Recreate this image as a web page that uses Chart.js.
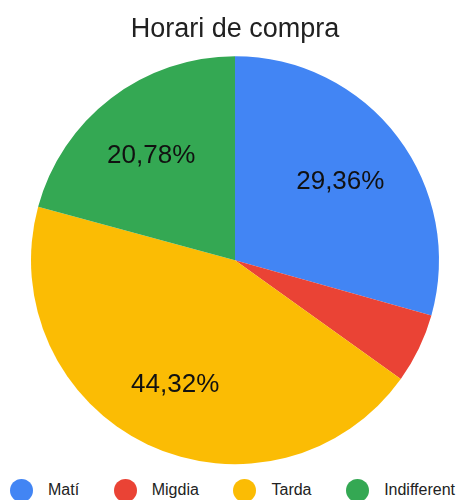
<!doctype html>
<html lang="ca">
  <head>
    <meta charset="utf-8">
    <title>Horari de compra</title>
    <style>
      * {
        margin: 0;
        padding: 0;
        font-family: "Liberation Sans", Arial, sans-serif;
      }
      body {
        width: 461px;
        height: 500px;
        background: #fff;
        overflow: hidden;
      }
      .chartBox {
        position: relative;
        width: 461px;
        height: 470px;
      }
      #legend {
        display: flex;
        justify-content: space-between;
        align-items: center;
        height: 40px;
        padding: 0 6px 0 10px;
      }
      #legend .item {
        display: flex;
        align-items: center;
        font-size: 16px;
        color: #222;
      }
      #legend .dot {
        width: 23px;
        height: 23px;
        border-radius: 50%;
        margin-right: 15px;
      }
    </style>
  </head>
  <body>
    <div class="chartBox">
      <canvas id="myChart"></canvas>
    </div>
    <div id="legend"></div>
    <script src="https://cdn.jsdelivr.net/npm/chart.js"></script>
    <script>
      // data (percent of answers)
      const labels = ['Matí', 'Migdia', 'Tarda', 'Indifferent'];
      const values = [29.36, 5.54, 44.32, 20.78];
      const colors = ['#4285F4', '#EA4335', '#FBBC04', '#34A853'];

      // percentage text inside the bigger slices
      const sliceLabels = {
        id: 'sliceLabels',
        afterDatasetsDraw(chart) {
          const ctx = chart.ctx;
          const meta = chart.getDatasetMeta(0);
          ctx.save();
          ctx.font = '26px "Liberation Sans", Arial, sans-serif';
          ctx.fillStyle = '#111';
          ctx.textAlign = 'center';
          ctx.textBaseline = 'middle';
          meta.data.forEach((arc, i) => {
            const v = chart.data.datasets[0].data[i];
            if (v < 10) return;
            const mid = (arc.startAngle + arc.endAngle) / 2;
            const r = arc.outerRadius * 0.66;
            ctx.fillText(v.toFixed(2).replace('.', ',') + '%',
              arc.x + Math.cos(mid) * r - 2, arc.y + Math.sin(mid) * r + 3);
          });
          ctx.restore();
        }
      };

      const data = {
        labels: labels,
        datasets: [{
          data: values,
          backgroundColor: colors,
          borderWidth: 0,
          radius: 204
        }]
      };

      const config = {
        type: 'pie',
        data,
        options: {
          responsive: true,
          maintainAspectRatio: false,
          animation: false,
          layout: { padding: { left: 9 } },
          plugins: {
            legend: { display: false },
            tooltip: { enabled: false },
            title: {
              display: true,
              text: 'Horari de compra',
              color: '#212121',
              font: { size: 27, weight: 'normal', family: '"Liberation Sans", Arial, sans-serif' },
              padding: { top: 13, bottom: 5 }
            }
          }
        },
        plugins: [sliceLabels]
      };

      const myChart = new Chart(document.getElementById('myChart'), config);

      // html legend built from the chart's own legend items
      const legendBox = document.getElementById('legend');
      myChart.options.plugins.legend.labels.generateLabels(myChart).forEach(item => {
        const el = document.createElement('div');
        el.className = 'item';
        const dot = document.createElement('span');
        dot.className = 'dot';
        dot.style.background = item.fillStyle;
        el.appendChild(dot);
        el.appendChild(document.createTextNode(item.text));
        legendBox.appendChild(el);
      });
    </script>
  </body>
</html>
